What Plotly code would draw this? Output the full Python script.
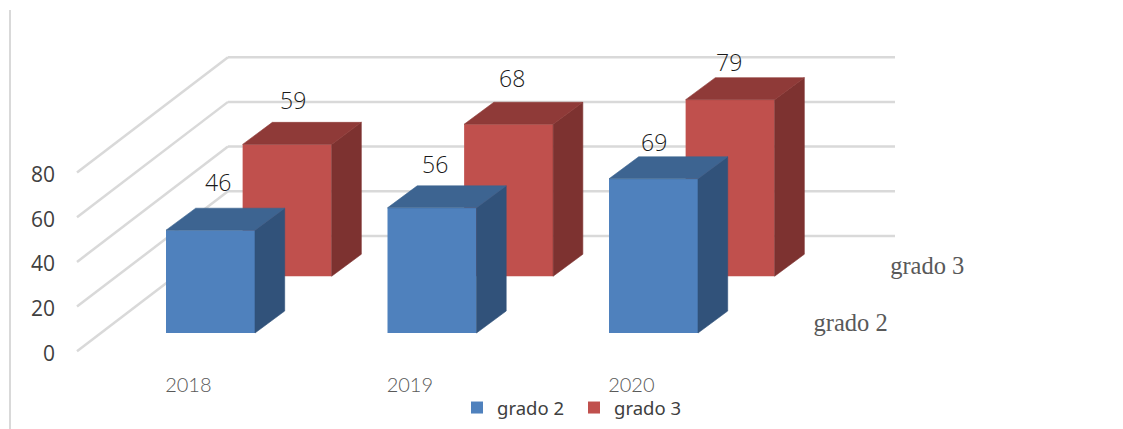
"""Oblique 3D-style column chart, grado 2 / grado 3 by year."""

import plotly.graph_objects as go

# Data
CATEGORIES = ["2018", "2019", "2020"]
GRADO_2 = [46, 56, 69]
GRADO_3 = [59, 68, 79]
VALUE_TICKS = [0, 20, 40, 60, 80]

# Palette: front, side, top
BLUE = ("#4F81BD", "#31527A", "#3D6491")
RED = ("#C0504D", "#7D3230", "#8F3A38")
GRID = "#D9D9D9"
TEXT = "#404040"
SERIF_TEXT = "#595959"

W, H = 1123, 429
# axis scales: one category = 221.5 px, one value unit = 2.235 px
X_PX = 221.5
Y_PX = 2.235
X_ZERO_PX = 210.5
Y_ZERO_PX = 333

# oblique projection, one depth unit moves a mark about 30 px right and 22 px up
DX = 29.7 / X_PX
DY = 22 / Y_PX
BAR_W = 89 / X_PX
DEPTH_3 = 2.58      # depth of the grado 3 row
WALL_FRONT = -0.8
WALL_BACK = 4.41
WALL_X0 = (77 - X_ZERO_PX) / X_PX
WALL_X1 = (228 - X_ZERO_PX) / X_PX
WALL_X2 = (895 - X_ZERO_PX) / X_PX


def add_bars(fig, name, values, depth, colors):
    xs = [i + depth * DX for i in range(len(values))]
    fig.add_trace(go.Bar(
        name=name, x=xs, y=values, base=[depth * DY] * len(values),
        width=BAR_W, marker=dict(color=colors[0], line=dict(width=0)),
        hovertemplate=f"{name}<br>%{{y}}<extra></extra>",
    ))


def add_faces(fig, values, depth, colors):
    for x, v in zip(range(len(values)), values):
        left = x + depth * DX - BAR_W / 2
        right = left + BAR_W
        base = depth * DY
        top = base + v
        # side face
        fig.add_trace(go.Scatter(
            x=[right, right + DX, right + DX, right, right],
            y=[base, base + DY, top + DY, top, base],
            mode="lines", fill="toself", fillcolor=colors[1],
            line=dict(width=0.6, color=colors[1]), showlegend=False, hoverinfo="skip",
        ))
        # top face
        fig.add_trace(go.Scatter(
            x=[left, left + DX, right + DX, right, left],
            y=[top, top + DY, top + DY, top, top],
            mode="lines", fill="toself", fillcolor=colors[2],
            line=dict(width=0.6, color=colors[2]), showlegend=False, hoverinfo="skip",
        ))


fig = go.Figure()

add_bars(fig, "grado 3", GRADO_3, DEPTH_3, RED)
add_bars(fig, "grado 2", GRADO_2, 0, BLUE)
add_faces(fig, GRADO_3, DEPTH_3, RED)
add_faces(fig, GRADO_2, 0, BLUE)

# gridlines on the side wall and the back wall
shapes = [dict(type="line", xref="paper", yref="paper", x0=10 / W, x1=10 / W,
               y0=0, y1=1 - 10 / H, line=dict(color=GRID, width=2), layer="below")]
for v in VALUE_TICKS:
    line = dict(color=GRID, width=2.5)
    shapes.append(dict(type="line", x0=WALL_X0, x1=WALL_X1,
                       y0=v + WALL_FRONT * DY * 1.04, y1=v + WALL_BACK * DY,
                       line=line, layer="below"))
    shapes.append(dict(type="line", x0=WALL_X1, x1=WALL_X2,
                       y0=v + WALL_BACK * DY, y1=v + WALL_BACK * DY,
                       line=line, layer="below"))

# value axis labels
fig.add_trace(go.Scatter(
    x=[(55 - X_ZERO_PX) / X_PX] * len(VALUE_TICKS),
    y=[v - 10 for v in VALUE_TICKS],
    text=[str(v) for v in VALUE_TICKS],
    mode="text", textposition="middle left",
    textfont=dict(family="Open Sans", size=21, color=TEXT),
    showlegend=False, hoverinfo="skip",
))

# year labels
fig.add_trace(go.Scatter(
    x=[i - 0.1 for i in range(len(CATEGORIES))],
    y=[-24] * len(CATEGORIES),
    text=CATEGORIES, mode="text", textposition="middle center",
    textfont=dict(family="Lato", size=20, color=SERIF_TEXT, weight=300),
    showlegend=False, hoverinfo="skip",
))

# depth axis labels
fig.add_trace(go.Scatter(
    x=[2.89, 2.89 + DEPTH_3 * DX],
    y=[3.6, 3.6 + DEPTH_3 * DY],
    text=["grado 2", "grado 3"], mode="text", textposition="middle center",
    textfont=dict(family="Liberation Serif", size=24.5, color=SERIF_TEXT),
    showlegend=False, hoverinfo="skip",
))

# data labels, hand-placed over the bars like in the source chart
NUDGE_2 = [(7, 48), (3, 44), (0, 37)]
NUDGE_3 = [(6, 44), (3, 46), (-1, 38)]
annotations = []
for values, depth, nudges in ((GRADO_2, 0, NUDGE_2), (GRADO_3, DEPTH_3, NUDGE_3)):
    for i, v in enumerate(values):
        annotations.append(dict(
            x=i + depth * DX, y=v + depth * DY, text=str(v), showarrow=False,
            xshift=nudges[i][0], yshift=nudges[i][1],
            font=dict(family="Open Sans", size=23, color="#1A1A1A", weight=300),
        ))

fig.update_layout(
    width=W, height=H,
    margin=dict(l=0, r=0, t=0, b=0),
    barmode="overlay",
    paper_bgcolor="white", plot_bgcolor="white",
    xaxis=dict(range=[-X_ZERO_PX / X_PX, (W - X_ZERO_PX) / X_PX], visible=False, fixedrange=True),
    yaxis=dict(range=[(Y_ZERO_PX - H) / Y_PX, Y_ZERO_PX / Y_PX], visible=False, fixedrange=True),
    shapes=shapes,
    annotations=annotations,
    legend=dict(
        orientation="h", traceorder="reversed",
        x=457 / W, xanchor="left", y=1 - 408 / H, yanchor="middle",
        entrywidth=72,
        font=dict(family="Noto Sans", size=18.5, color=TEXT),
        bgcolor="rgba(255,255,255,0)",
    ),
)

# the page's default body margin would shift the chart by 8 px
fig.write_html("out.html", config={"displayModeBar": False},
               post_script="document.body.style.margin='0';")
